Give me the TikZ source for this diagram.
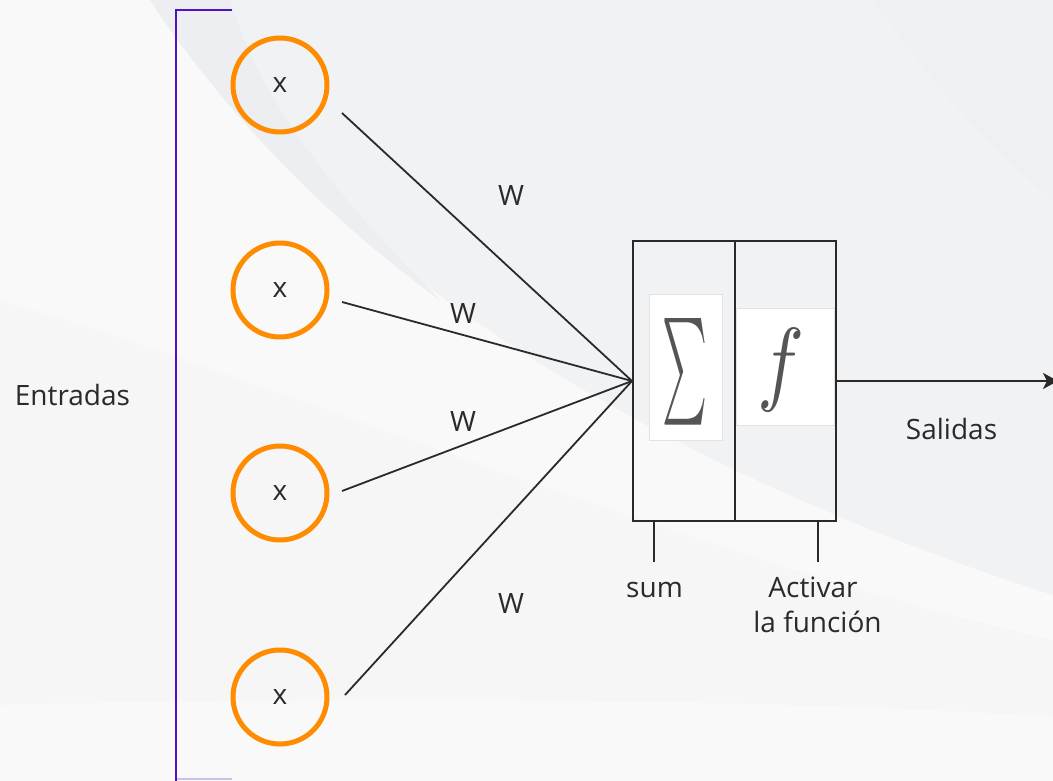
\documentclass[tikz,border=0pt]{standalone}
\usepackage{fontspec}
\usepackage{graphicx}
\setmainfont{Open Sans}
\usetikzlibrary{arrows.meta}
\definecolor{inp}{HTML}{FF8C00}
\definecolor{brk}{HTML}{4A14C4}
\definecolor{brklight}{HTML}{C9C2E6}
\definecolor{ink}{HTML}{2A2A2A}
\definecolor{bgA}{HTML}{F9F9FA}
\definecolor{bgL}{HTML}{F6F6F7}
\definecolor{bgB}{HTML}{F1F2F4}
\definecolor{bgD}{HTML}{EDEEF1}
\definecolor{bgE}{HTML}{EFF0F2}
\definecolor{glyph}{HTML}{555555}
\definecolor{pane}{HTML}{FFFFFF}
\definecolor{paneedge}{HTML}{E2E2E4}
\begin{document}
\begin{tikzpicture}[x=1pt,y=-1pt,
  lbl/.style={font=\fontsize{28}{34}\selectfont, text=ink, inner sep=0pt, anchor=base},
  inpnode/.style={circle, draw=inp, line width=5pt, minimum size=94pt, inner sep=0pt, text=ink, font=\fontsize{28}{34}\selectfont},
  wire/.style={draw=ink, line width=1.8pt},
  boxpart/.style={draw=ink, line width=2pt, minimum height=280pt, inner sep=0pt},
  panebox/.style={fill=pane, draw=paneedge, line width=0.6pt, inner sep=0pt}]
\useasboundingbox (0,0) rectangle (1053,781);
% background
\fill[bgA] (0,0) rectangle (1053,781);
\fill[bgL] (0,300) .. controls (300,390) and (700,560) .. (1053,640) -- (1053,717) .. controls (800,700) and (400,695) .. (0,705) -- cycle;
\fill[bgB] (150,0) .. controls (300,230) and (600,450) .. (1053,595) -- (1053,0) -- cycle;
\fill[bgD] (150,0) .. controls (230,120) and (330,220) .. (440,300) .. controls (330,190) and (260,100) .. (230,0) -- cycle;
\fill[bgE] (873,0) .. controls (930,80) and (990,150) .. (1053,200) -- (1053,0) -- cycle;
% bracket
\draw[brklight, line width=2pt] (176,779) -- (232,779);
\draw[brk, line width=2pt] (232,10) -- (176,10) -- (176,781);
\node[lbl] (entr) at (72.5,405) {Entradas};
% inputs
\node[inpnode] (x1) at (280,85) {x};
\node[inpnode] (x2) at (280,290) {x};
\node[inpnode] (x3) at (280,493) {x};
\node[inpnode] (x4) at (280,697) {x};
\coordinate (s1) at (342,113);
\coordinate (s2) at (342,302);
\coordinate (s3) at (342,491);
\coordinate (s4) at (345,695);
% panes
\node[panebox, minimum width=73pt, minimum height=146pt] (sigpane) at (685.5,367) {};
\node[panebox, minimum width=98pt, minimum height=117pt] (fpane) at (785,366.5) {};
\node[inner sep=0pt, text=glyph] (sig) at (684.5,372) {\resizebox{45pt}{80pt}{$\sum$}};
\node[inner sep=0pt, text=glyph] (fn) at (781.5,370.5) {\resizebox{47pt}{65pt}{$f$}};
% boxes
\node[boxpart, minimum width=102pt] (sumbox) at (684,381) {};
\node[boxpart, minimum width=101pt] (actbox) at (785.5,381) {};
% wires
\draw[wire] (s1) -- (sumbox.west);
\draw[wire] (s2) -- (sumbox.west);
\draw[wire] (s3) -- (sumbox.west);
\draw[wire] (s4) -- (sumbox.west);
\node[lbl] (w1) at (511,205) {W};
\node[lbl] (w2) at (463,323) {W};
\node[lbl] (w3) at (463,431) {W};
\node[lbl] (w4) at (511,613) {W};
% output
\coordinate (out) at (1058,381);
\draw[wire, -{Stealth[length=15pt,width=16pt,inset=4pt]}] (actbox.east) -- (out);
\node[lbl] (sal) at (951.5,439) {Salidas};
% ticks and labels
\coordinate (sumtick) at (654,562);
\coordinate (acttick) at (818,562);
\draw[wire] (sumtick |- sumbox.south) -- (sumtick);
\draw[wire] (acttick |- actbox.south) -- (acttick);
\node[lbl] (sumlbl) at (654.5,597) {sum};
\node[lbl] (actlbl1) at (813,597) {Activar};
\node[lbl] (actlbl2) at (817.5,632) {la función};
\end{tikzpicture}
\end{document}
